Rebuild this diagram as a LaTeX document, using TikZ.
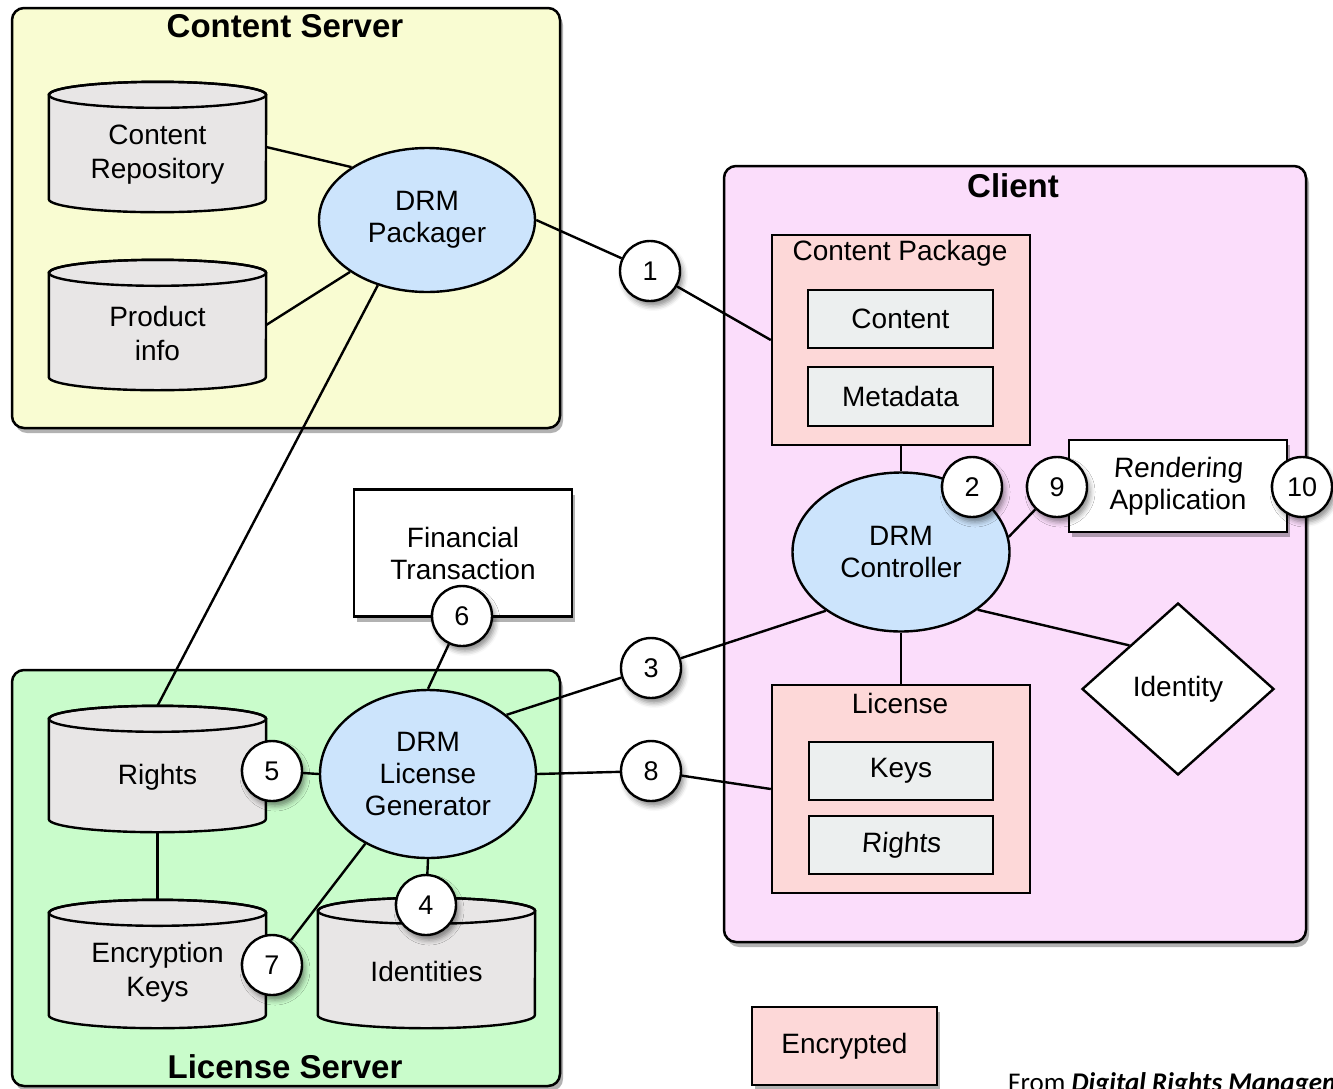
\documentclass[tikz,border=0pt]{standalone}
\usepackage{fontspec}
\setmainfont{Liberation Sans}
\newfontfamily\notefont{Carlito}
\newfontfamily\slantfont[FakeSlant=0.08]{Liberation Sans}
\usetikzlibrary{shapes.geometric,shadows,shadows.blur}
\definecolor{csfill}{HTML}{F9FCD2}
\definecolor{lsfill}{HTML}{C9FCCB}
\definecolor{clfill}{HTML}{FBDDFB}
\definecolor{encfill}{HTML}{FDD8D8}
\definecolor{procblue}{HTML}{CCE4FC}
\definecolor{cylgray}{HTML}{E8E6E6}
\definecolor{itemgray}{HTML}{ECEFEF}
\pgfdeclarelayer{background}
\pgfdeclarelayer{edges}
\pgfdeclarelayer{cyls}
\pgfsetlayers{background,edges,cyls,main}
\newcommand\drawcyl[1]{%
  \path[draw=black,line width=2.4pt,fill=cylgray]
    ([yshift=-13pt]#1.north west) -- ([yshift=13pt]#1.south west)
    arc[start angle=180,end angle=360,x radius=108.5pt,y radius=13pt]
    -- ([yshift=-13pt]#1.north east)
    arc[start angle=0,end angle=180,x radius=108.5pt,y radius=13pt] -- cycle;
  \draw[line width=2.4pt] ([yshift=-13pt]#1.north) ellipse[x radius=108.5pt,y radius=13pt];
}
\begin{document}
\begin{tikzpicture}[x=1pt,y=-1pt,
  shad/.style={blur shadow={shadow xshift=3pt,shadow yshift=-5pt,shadow blur radius=5pt,shadow opacity=45}},
  rshad/.style={drop shadow={shadow xshift=3pt,shadow yshift=-5pt,fill=black,opacity=0.3}},
  container/.style={draw,line width=2.5pt,rounded corners=12pt,inner sep=0pt,rshad},
  title/.style={font=\fontsize{33}{36}\selectfont\bfseries},
  txt/.style={font=\fontsize{28}{32}\selectfont,align=center},
  num/.style={circle,draw,line width=2.4pt,fill=white,minimum size=60pt,inner sep=0pt,font=\fontsize{27}{30}\selectfont,shad},
  proc/.style={ellipse,draw,line width=2.4pt,fill=procblue,inner sep=0pt,txt},
  box/.style={rectangle,draw,line width=2.4pt,inner sep=0pt,txt},
  cyl/.style={rectangle,draw=none,minimum width=217pt,minimum height=130pt,inner sep=0pt},
  cyltext/.style={txt,font=\fontsize{28}{34}\selectfont,yshift=-8pt},
  conn/.style={draw,line width=2.4pt}]
\useasboundingbox (0,0) rectangle (1333,1088);
\clip (0,0) rectangle (1333,1088);

\node[title] (cstitle) at (285,26) {Content Server};
\node[title] (cltitle) at (1013,186) {Client};
\node[title] (lstitle) at (285,1067) {License Server};

% cylinders (outlines drawn on the cyls layer)
\node[cyl,label={[cyltext]center:{Content\\Repository}}] (cr) at (157.5,147) {};
\node[cyl,label={[cyltext]center:{Product\\info}}] (pi) at (157.5,325) {};
\node[cyl,minimum height=126pt,label={[cyltext]center:{Rights}}] (rt) at (157.5,769) {};
\node[cyl,minimum height=128pt,label={[cyltext]center:{Encryption\\Keys}}] (ek) at (157.5,964) {};
\node[cyl,label={[cyltext]center:{Identities}}] (id) at (426.5,963) {};

% processes
\node[proc,minimum width=216pt,minimum height=144pt] (pack) at (427,220) {DRM\\Packager};
\node[proc,minimum width=217pt,minimum height=159pt] (ctrl) at (901,552) {DRM\\Controller};
\node[proc,minimum width=216pt,minimum height=168pt] (lg) at (428,774) {DRM\\License\\Generator};

% boxes
\node[txt] (cpkgl) at (900,253) {Content Package};
\node[box,fill=itemgray,minimum width=185pt,minimum height=58pt] (cont) at (900.5,319) {Content};
\node[box,fill=itemgray,minimum width=185pt,minimum height=59pt] (meta) at (900.5,396.5) {Metadata};
\node[txt] (licl) at (900,703) {License};
\node[box,fill=itemgray,minimum width=184pt,minimum height=58pt] (keys) at (901,771) {Keys};
\node[box,fill=itemgray,minimum width=184pt,minimum height=58pt] (rt2) at (901,845) {\slantfont Rights};
\node[box,fill=white,minimum width=218pt,minimum height=92pt,rshad] (rend) at (1178,486) {{\slantfont Rendering}\\Application};
\node[box,fill=white,minimum width=218pt,minimum height=127pt,rshad] (fin) at (463,553) {Financial\\Transaction};
\node[diamond,draw,line width=2.4pt,fill=white,inner sep=0pt,minimum width=192pt,minimum height=172pt,aspect=1.116,txt] (ident) at (1178,689) {Identity};
\node[box,fill=encfill,minimum width=185pt,minimum height=78pt,rshad] (enc) at (844.5,1046) {Encrypted};

\node[anchor=base west,inner sep=0pt,font=\notefont\fontsize{27}{30}\selectfont] (src) at (1008,1091) {From \textbf{\textit{Digital Rights Management}}};

% numbered circles (on top of the other nodes)
\node[num] (n1) at (650,271) {1};
\node[num] (n2) at (972,487) {2};
\node[num] (n3) at (651,668) {3};
\node[num] (n4) at (426,905) {4};
\node[num] (n5) at (272,771) {5};
\node[num] (n6) at (462,616) {6};
\node[num] (n7) at (272,965) {7};
\node[num] (n8) at (651,771) {8};
\node[num] (n9) at (1057,487) {9};
\node[num] (n10) at (1302,487) {10};

\begin{pgfonlayer}{background}
\node[container,fill=csfill,minimum width=548pt,minimum height=420pt] (cs) at (286,218) {};
\node[container,fill=lsfill,minimum width=548pt,minimum height=416pt] (ls) at (286,878) {};
\node[container,fill=clfill,minimum width=582pt,minimum height=776pt] (cl) at (1015,554) {};
\node[box,fill=encfill,minimum width=258pt,minimum height=210pt] (cpkg) at (901,340) {};
\node[box,fill=encfill,minimum width=258pt,minimum height=208pt] (lic) at (901,789) {};
\end{pgfonlayer}

\begin{pgfonlayer}{cyls}
\drawcyl{cr}
\drawcyl{pi}
\drawcyl{rt}
\drawcyl{ek}
\drawcyl{id}
\end{pgfonlayer}

\begin{pgfonlayer}{edges}
\draw[conn] (cr.east) -- (pack.145);
\draw[conn] (pi.east) -- (pack.214);
\draw[conn] (pack.233) -- (rt.north);
\draw[conn] (pack.east) -- (n1);
\draw[conn] (n1) -- (cpkg.west);
\draw[conn] (cpkg.south) -- (ctrl.north);
\draw[conn] (n9) -- (ctrl.8);
\draw[conn] (ctrl.-37) -- (ident.north west);
\draw[conn] (ctrl.south) -- (lic.north);
\draw[conn] (ctrl.218) -- (n3);
\draw[conn] (n3) -- (lg.37);
\draw[conn] (lg.east) -- (n8);
\draw[conn] (n8) -- (lic.west);
\draw[conn] (n6) -- (lg.north);
\draw[conn] (n5) -- (lg.west);
\draw[conn] (rt.south) -- (ek.north);
\draw[conn] (n7) -- (lg.228);
\draw[conn] (lg.south) -- (n4);
\end{pgfonlayer}
\end{tikzpicture}
\end{document}
